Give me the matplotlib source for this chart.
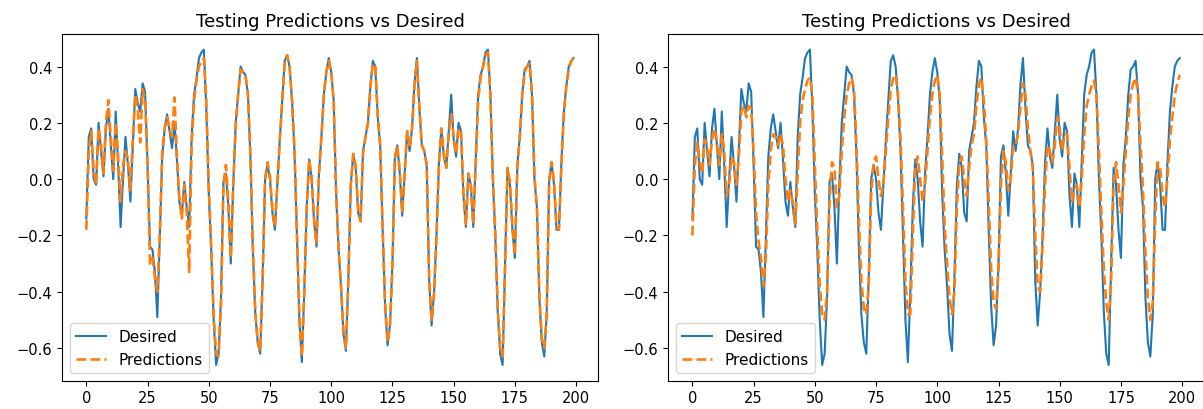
import numpy as np
import matplotlib
matplotlib.use('Agg')
import matplotlib.pyplot as plt

# desired test signal (same in both panels)
desired = [
    -0.14, 0.15, 0.18, 0.00, -0.02, 0.20, 0.10, 0.01, 0.18, 0.25,
    0.12, 0.00, 0.24, 0.05, -0.17, 0.00, 0.15, 0.05, -0.08, 0.12,
    0.32, 0.27, 0.24, 0.34, 0.31, 0.05, -0.24, -0.25, -0.33, -0.49,
    -0.20, 0.08, 0.18, 0.23, 0.17, 0.11, 0.20, 0.07, -0.08, -0.13,
    -0.01, -0.10, -0.17, 0.15, 0.30, 0.36, 0.43, 0.45, 0.46, 0.25,
    -0.05, -0.25, -0.50, -0.66, -0.62, -0.42, -0.01, 0.02, -0.10, -0.30,
    -0.02, 0.20, 0.30, 0.40, 0.38, 0.37, 0.30, 0.08, -0.25, -0.48,
    -0.58, -0.62, -0.35, 0.00, 0.05, 0.00, -0.12, -0.18, -0.02, 0.14,
    0.28, 0.42, 0.44, 0.40, 0.28, 0.10, -0.20, -0.50, -0.65, -0.40,
    -0.10, 0.07, 0.00, -0.15, -0.24, 0.02, 0.15, 0.30, 0.38, 0.43,
    0.38, 0.28, -0.05, -0.25, -0.38, -0.55, -0.61, -0.35, -0.02, 0.09,
    0.04, -0.12, -0.15, 0.10, 0.15, 0.20, 0.33, 0.42, 0.40, 0.22,
    0.12, -0.18, -0.45, -0.59, -0.52, -0.30, 0.08, 0.12, 0.02, -0.13,
    0.02, 0.17, 0.10, 0.18, 0.34, 0.43, 0.25, 0.12, 0.10, 0.05,
    -0.36, -0.52, -0.40, -0.20, 0.06, 0.18, 0.08, 0.04, 0.17, 0.30,
    0.14, 0.08, 0.20, 0.17, -0.06, -0.17, 0.02, -0.02, -0.17, 0.06,
    0.30, 0.37, 0.40, 0.45, 0.46, 0.30, 0.00, -0.20, -0.47, -0.62,
    -0.66, -0.30, 0.04, -0.02, -0.18, -0.28, 0.05, 0.15, 0.30, 0.39,
    0.40, 0.42, 0.30, 0.00, -0.10, -0.42, -0.58, -0.63, -0.48, 0.00,
    0.06, -0.02, -0.18, -0.18, 0.06, 0.24, 0.33, 0.40, 0.42, 0.43,
]

# predictions of the first model (left panel)
pred_left = [
    -0.18, 0.10, 0.17, 0.03, -0.02, 0.18, 0.12, 0.02, 0.20, 0.28,
    0.15, 0.03, 0.20, 0.08, -0.08, 0.05, 0.10, 0.07, -0.04, 0.15,
    0.30, 0.25, 0.13, 0.32, 0.28, 0.05, -0.30, -0.28, -0.35, -0.40,
    -0.20, 0.10, 0.18, 0.22, 0.18, 0.15, 0.29, 0.08, -0.07, -0.14,
    -0.02, -0.12, -0.33, 0.12, 0.28, 0.35, 0.40, 0.42, 0.43, 0.28,
    -0.02, -0.24, -0.48, -0.62, -0.63, -0.45, -0.02, 0.05, -0.08, -0.28,
    -0.02, 0.19, 0.30, 0.39, 0.38, 0.37, 0.30, 0.09, -0.24, -0.47,
    -0.58, -0.61, -0.36, 0.00, 0.06, 0.01, -0.11, -0.17, -0.02, 0.14,
    0.28, 0.41, 0.44, 0.40, 0.28, 0.11, -0.19, -0.49, -0.63, -0.41,
    -0.10, 0.07, 0.01, -0.14, -0.23, 0.02, 0.15, 0.30, 0.38, 0.42,
    0.38, 0.28, -0.04, -0.24, -0.38, -0.54, -0.60, -0.36, -0.02, 0.09,
    0.05, -0.11, -0.15, 0.09, 0.15, 0.20, 0.33, 0.41, 0.40, 0.23,
    0.12, -0.17, -0.44, -0.58, -0.52, -0.31, 0.07, 0.12, 0.03, -0.12,
    0.02, 0.17, 0.11, 0.18, 0.33, 0.42, 0.26, 0.12, 0.10, 0.05,
    -0.35, -0.50, -0.41, -0.20, 0.05, 0.18, 0.09, 0.04, 0.16, 0.23,
    0.15, 0.09, 0.18, 0.17, -0.05, -0.16, 0.02, -0.02, -0.16, 0.05,
    0.28, 0.36, 0.40, 0.44, 0.45, 0.30, 0.01, -0.19, -0.46, -0.60,
    -0.63, -0.31, 0.04, -0.01, -0.17, -0.27, 0.04, 0.15, 0.30, 0.38,
    0.40, 0.41, 0.30, 0.01, -0.10, -0.41, -0.57, -0.60, -0.48, -0.01,
    0.06, -0.01, -0.17, -0.18, 0.05, 0.23, 0.33, 0.39, 0.42, 0.43,
]

# predictions of the second model (right panel), damped amplitude
pred_right = [
    -0.20, 0.05, 0.13, 0.06, 0.02, 0.14, 0.12, 0.05, 0.14, 0.18,
    0.13, 0.05, 0.16, 0.10, -0.06, -0.02, 0.08, 0.06, -0.02, 0.08,
    0.24, 0.26, 0.22, 0.26, 0.25, 0.10, -0.12, -0.22, -0.28, -0.38,
    -0.28, -0.02, 0.10, 0.16, 0.15, 0.12, 0.16, 0.12, 0.00, -0.08,
    -0.04, -0.08, -0.16, 0.02, 0.20, 0.28, 0.32, 0.35, 0.36, 0.30,
    0.05, -0.18, -0.38, -0.48, -0.50, -0.40, -0.08, 0.06, 0.04, -0.10,
    -0.06, 0.10, 0.22, 0.30, 0.34, 0.36, 0.32, 0.12, -0.15, -0.36,
    -0.46, -0.48, -0.38, -0.06, 0.06, 0.08, 0.00, -0.06, -0.02, 0.10,
    0.22, 0.32, 0.36, 0.37, 0.30, 0.14, -0.10, -0.36, -0.48, -0.48,
    -0.20, 0.04, 0.08, 0.00, -0.08, -0.02, 0.10, 0.22, 0.30, 0.35,
    0.37, 0.30, 0.08, -0.16, -0.30, -0.42, -0.48, -0.40, -0.10, 0.06,
    0.08, 0.00, -0.06, 0.04, 0.12, 0.16, 0.26, 0.34, 0.36, 0.28,
    0.14, -0.08, -0.32, -0.44, -0.46, -0.32, -0.02, 0.10, 0.06, -0.04,
    0.00, 0.12, 0.12, 0.16, 0.26, 0.34, 0.30, 0.18, 0.10, 0.04,
    -0.20, -0.38, -0.40, -0.24, -0.02, 0.12, 0.10, 0.06, 0.12, 0.22,
    0.18, 0.10, 0.16, 0.16, 0.04, -0.08, -0.04, -0.02, -0.10, 0.00,
    0.16, 0.26, 0.30, 0.33, 0.35, 0.30, 0.10, -0.12, -0.32, -0.44,
    -0.50, -0.36, -0.02, 0.06, -0.02, -0.12, -0.02, 0.10, 0.22, 0.30,
    0.34, 0.36, 0.30, 0.12, -0.04, -0.26, -0.42, -0.50, -0.44, -0.14,
    0.06, 0.04, -0.06, -0.10, 0.00, 0.14, 0.22, 0.30, 0.34, 0.37,
]

title = 'Testing Predictions vs Desired'

fig = plt.figure(figsize=(12.03, 4.10), dpi=100)
ax1 = fig.add_axes([0.0515, 0.069, 0.4456, 0.846])
ax2 = fig.add_axes([0.5553, 0.069, 0.4456, 0.846])

for ax, pred in ((ax1, pred_left), (ax2, pred_right)):
    ax.plot(np.arange(len(desired)), desired, label='Desired')
    ax.plot(np.arange(len(pred)), pred, '--', linewidth=1.9, label='Predictions')
    ax.set_title(title, fontsize=13)
    ax.tick_params(labelsize=10.5)
    ax.legend(loc='lower left', fontsize=11)

fig.savefig('out.png', dpi=100)
plt.close(fig)
